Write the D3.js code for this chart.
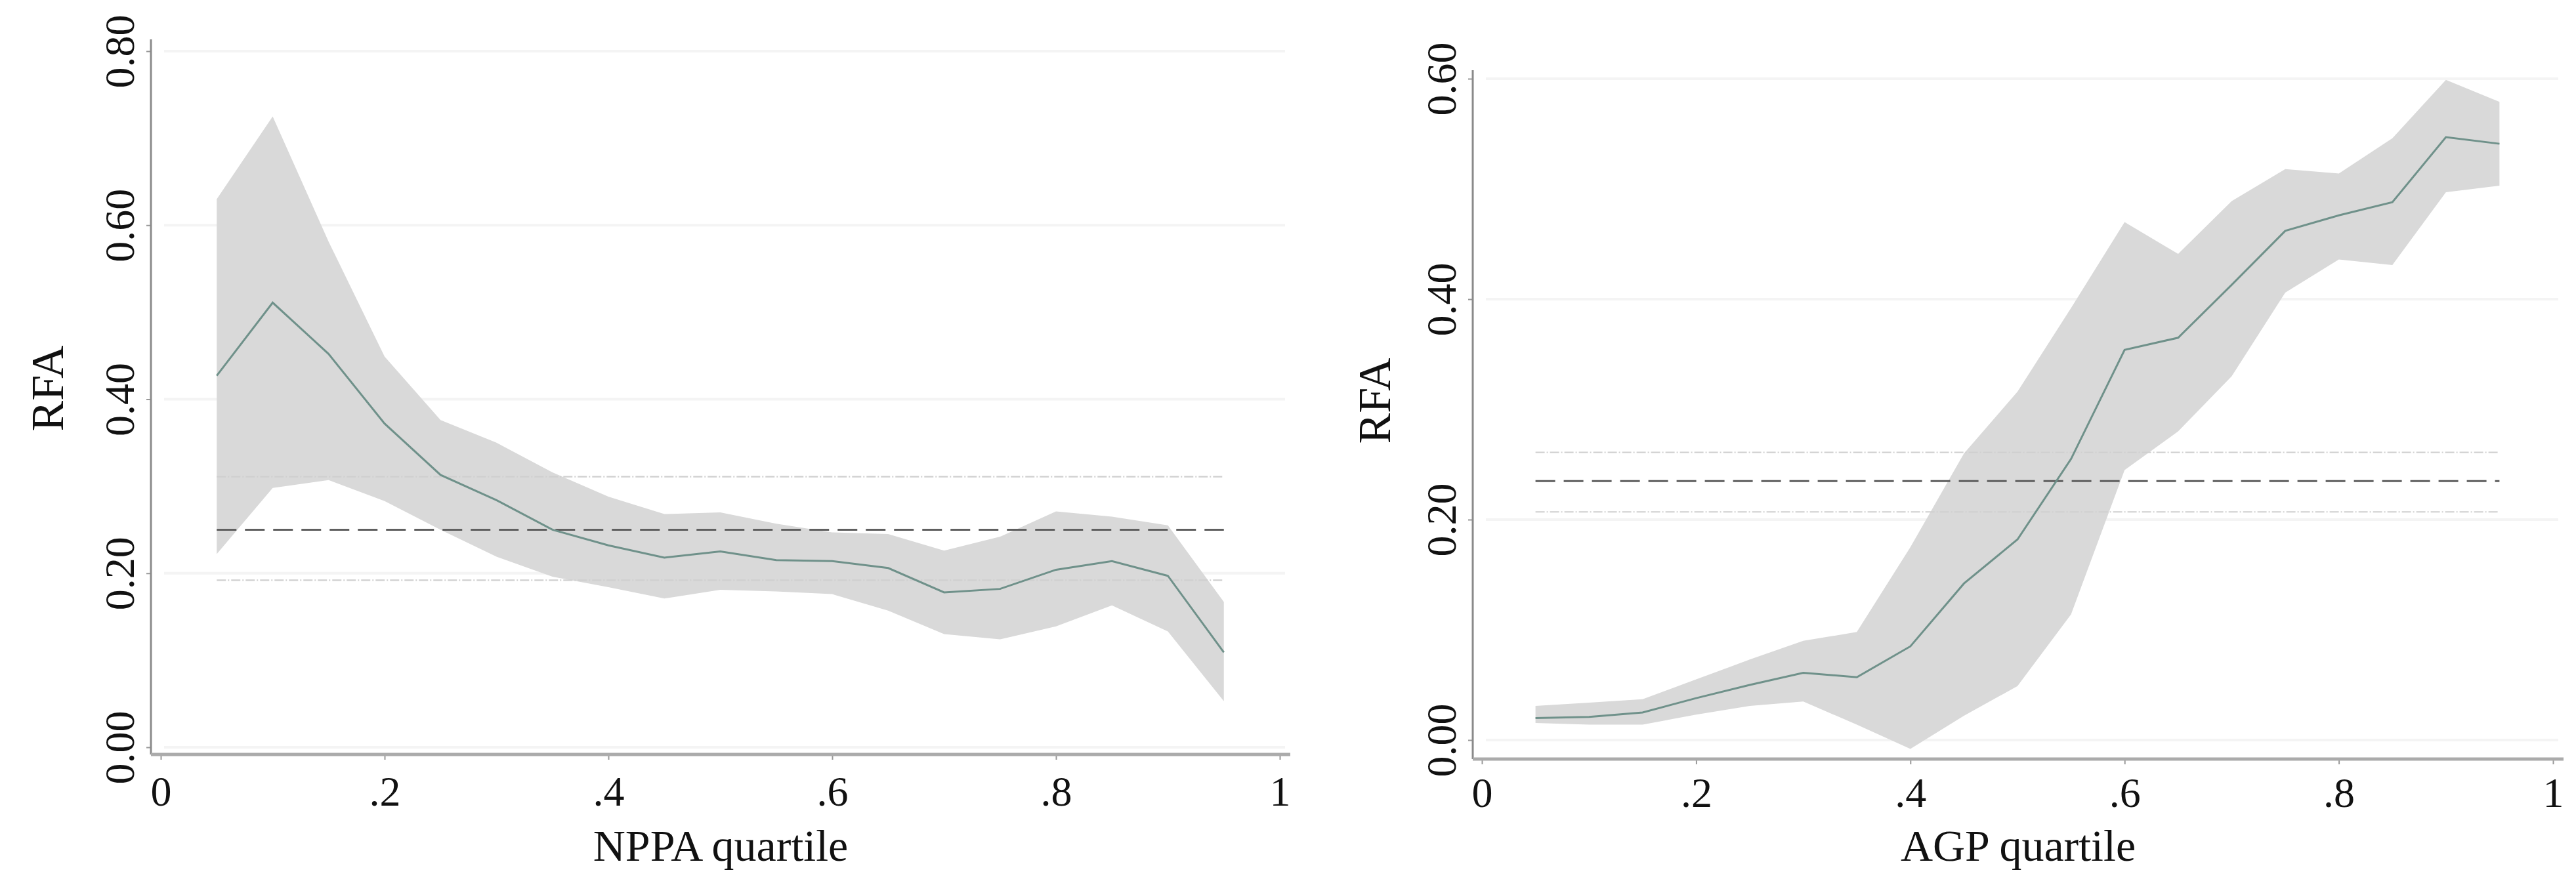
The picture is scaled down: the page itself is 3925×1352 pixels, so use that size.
<!DOCTYPE html>
<html><head><meta charset="utf-8">
<script src="https://cdn.jsdelivr.net/npm/d3@7"></script>
<style>html,body{margin:0;padding:0;background:#fff}svg{display:block}</style>
</head><body>
<script>
// ---------- data ----------
const quantiles = [0.05,0.10,0.15,0.20,0.25,0.30,0.35,0.40,0.45,0.50,0.55,0.60,0.65,0.70,0.75,0.80,0.85,0.90,0.95];

const nppaMean  = [0.427,0.511,0.452,0.372,0.313,0.284,0.250,0.232,0.218,0.225,0.215,0.214,0.206,0.178,0.182,0.204,0.214,0.197,0.109];
const nppaUpper = [0.630,0.725,0.581,0.449,0.376,0.350,0.316,0.288,0.268,0.270,0.257,0.247,0.245,0.226,0.242,0.271,0.265,0.255,0.167];
const nppaLower = [0.222,0.298,0.307,0.283,0.250,0.219,0.196,0.184,0.171,0.181,0.179,0.176,0.157,0.130,0.124,0.139,0.163,0.133,0.053];
const nppaRef = [0.192, 0.250, 0.311]; // lower CI, overall mean, upper CI

const agpMean  = [0.020,0.021,0.025,0.038,0.050,0.061,0.057,0.085,0.142,0.182,0.255,0.354,0.365,0.413,0.462,0.476,0.488,0.547,0.541];
const agpUpper = [0.031,0.034,0.037,0.055,0.073,0.090,0.098,0.175,0.260,0.316,0.392,0.470,0.441,0.489,0.518,0.514,0.546,0.599,0.579];
const agpLower = [0.0155,0.014,0.014,0.023,0.031,0.035,0.014,-0.008,0.022,0.049,0.114,0.245,0.280,0.330,0.406,0.436,0.431,0.497,0.503];
const agpRef = [0.207, 0.235, 0.261];

const xTicks = [0,0.2,0.4,0.6,0.8,1];
const xTickLabels = ["0",".2",".4",".6",".8","1"];
const nppaYTicks = [0,0.2,0.4,0.6,0.8];
const agpYTicks = [0,0.2,0.4,0.6];
const yTitle = "RFA";
const nppaXTitle = "NPPA quartile";
const agpXTitle = "AGP quartile";

// ---------- drawing ----------
const FONT = "'Liberation Serif','Times New Roman',serif";
const W = 3925, H = 1352;
const svg = d3.select("body").append("svg").attr("width", W).attr("height", H)
  .style("font-family", FONT);
svg.append("rect").attr("width", W).attr("height", H).attr("fill", "#fff");

function panel(cfg) {
  const x = d3.scaleLinear().domain([0, 1]).range(cfg.xRange);
  const y = d3.scaleLinear().domain([0, cfg.yMax]).range(cfg.yRange);
  const g = svg.append("g");

  // gridlines
  g.selectAll("line.grid").data(cfg.yTicks).join("line")
    .attr("x1", cfg.axisX + 20).attr("x2", x(1) + 8)
    .attr("y1", d => y(d)).attr("y2", d => y(d))
    .attr("stroke", "#f4f4f4").attr("stroke-width", 4);

  const rows = quantiles.map((q, i) => ({ q, m: cfg.mean[i], hi: cfg.upper[i], lo: cfg.lower[i] }));

  // CI band
  g.append("path").datum(rows)
    .attr("d", d3.area().x(d => x(d.q)).y0(d => y(d.lo)).y1(d => y(d.hi)))
    .attr("fill", "#d9d9d9");

  // reference lines
  const ext = [quantiles[0], quantiles[quantiles.length - 1]];
  const refLine = v => d3.line().x(d => x(d)).y(() => y(v))(ext);
  [cfg.ref[0], cfg.ref[2]].forEach(v => {
    g.append("path").attr("d", refLine(v)).attr("fill", "none")
      .attr("stroke", "#cfcfcf").attr("stroke-width", 2.2)
      .attr("stroke-dasharray", "14,3,2,3");
  });
  g.append("path").attr("d", refLine(cfg.ref[1])).attr("fill", "none")
    .attr("stroke", "#5f5f5f").attr("stroke-width", 3)
    .attr("stroke-dasharray", "30,13");

  // mean line
  g.append("path").datum(rows)
    .attr("d", d3.line().x(d => x(d.q)).y(d => y(d.m)))
    .attr("fill", "none").attr("stroke", "#6f918a").attr("stroke-width", 3);

  // y axis
  const ya = g.append("g").attr("transform", `translate(${cfg.axisX},0)`)
    .call(d3.axisLeft(y).tickValues(cfg.yTicks).tickFormat(d3.format(".2f")).tickSize(7))
    .attr("font-family", FONT);
  ya.select(".domain").remove();
  ya.selectAll(".tick line").attr("stroke", "#999").attr("stroke-width", 2);
  ya.selectAll(".tick text")
    .attr("x", null).attr("dy", null)
    .attr("transform", "translate(-26,0) rotate(-90)")
    .attr("text-anchor", "middle")
    .attr("font-family", FONT)
    .attr("font-size", 64).attr("fill", "#111");
  g.append("line").attr("x1", cfg.axisX).attr("x2", cfg.axisX)
    .attr("y1", cfg.axisTop).attr("y2", cfg.axisY)
    .attr("stroke", "#8a8a8a").attr("stroke-width", 3);

  // x axis
  const xa = g.append("g").attr("transform", `translate(0,${cfg.axisY})`)
    .call(d3.axisBottom(x).tickValues(xTicks).tickFormat((d, i) => xTickLabels[i]).tickSize(8))
    .attr("font-family", FONT);
  xa.select(".domain").remove();
  xa.selectAll(".tick line").attr("stroke", "#999").attr("stroke-width", 2);
  xa.selectAll(".tick text").attr("y", cfg.xLabOff).attr("dy", null)
    .attr("font-family", FONT)
    .attr("font-size", 64).attr("fill", "#111");
  g.append("line").attr("x1", cfg.axisX).attr("x2", x(1) + 16)
    .attr("y1", cfg.axisY).attr("y2", cfg.axisY)
    .attr("stroke", "#ababab").attr("stroke-width", 5);

  // titles
  g.append("text").attr("transform", `translate(${cfg.yTitleX},${cfg.yTitleY}) rotate(-90)`)
    .attr("text-anchor", "middle").attr("font-size", 70).attr("fill", "#111").text(yTitle);
  g.append("text").attr("x", (cfg.axisX + x(1) + 16) / 2).attr("y", cfg.xTitleY)
    .attr("text-anchor", "middle").attr("font-size", 68).attr("fill", "#111").text(cfg.xTitle);
}

panel({
  xRange: [245, 1950], yRange: [1139, 78], yMax: 0.8,
  axisX: 230, axisY: 1150, axisTop: 60,
  yTicks: nppaYTicks, mean: nppaMean, upper: nppaUpper, lower: nppaLower, ref: nppaRef,
  xLabOff: 78, yTitleX: 96, yTitleY: 592, xTitleY: 1312, xTitle: nppaXTitle
});
panel({
  xRange: [2258, 3890], yRange: [1128, 120], yMax: 0.6,
  axisX: 2244, axisY: 1157, axisTop: 107,
  yTicks: agpYTicks, mean: agpMean, upper: agpUpper, lower: agpLower, ref: agpRef,
  xLabOff: 73, yTitleX: 2118, yTitleY: 611, xTitleY: 1312, xTitle: agpXTitle
});
</script>
</body></html>
